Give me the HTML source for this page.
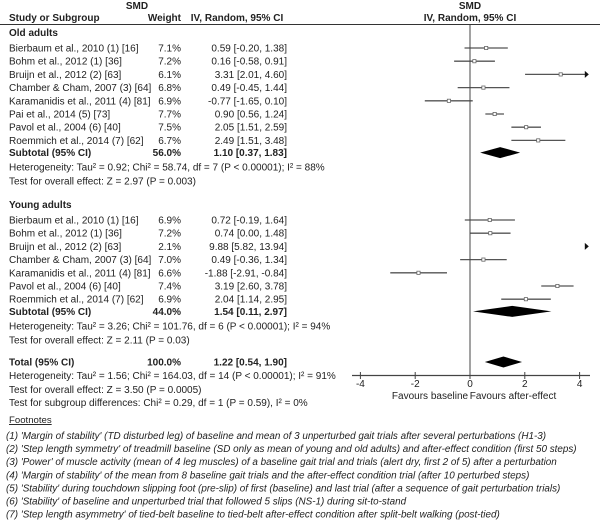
<!DOCTYPE html>
<html><head><meta charset="utf-8"><style>
body{margin:0;background:#fff;width:600px;height:523px;overflow:hidden}
svg{display:block;font-family:"Liberation Sans",Arial,sans-serif}
</style></head><body>
<svg id="plot" width="600" height="523" viewBox="0 0 600 523">
<g id="txt" fill="#222"></g>
<g id="marks"></g>
</svg>
<script>
const studies=["Bierbaum et al., 2010 (1) [16]","Bohm et al., 2012 (1) [36]","Bruijn et al., 2012 (2) [63]","Chamber & Cham, 2007 (3) [64]","Karamanidis et al., 2011 (4) [81]","Pai et al., 2014 (5) [73]","Pavol et al., 2004 (6) [40]","Roemmich et al., 2014 (7) [62]"];
const oldW=[7.1,7.2,6.1,6.8,6.9,7.7,7.5,6.7];
const oldEst=[0.59,0.16,3.31,0.49,-0.77,0.90,2.05,2.49];
const oldLo=[-0.20,-0.58,2.01,-0.45,-1.65,0.56,1.51,1.51];
const oldHi=[1.38,0.91,4.60,1.44,0.10,1.24,2.59,3.48];
const youngStudies=["Bierbaum et al., 2010 (1) [16]","Bohm et al., 2012 (1) [36]","Bruijn et al., 2012 (2) [63]","Chamber & Cham, 2007 (3) [64]","Karamanidis et al., 2011 (4) [81]","Pavol et al., 2004 (6) [40]","Roemmich et al., 2014 (7) [62]"];
const youngW=[6.9,7.2,2.1,7.0,6.6,7.4,6.9];
const youngEst=[0.72,0.74,9.88,0.49,-1.88,3.19,2.04];
const youngLo=[-0.19,-0.00,5.82,-0.36,-2.91,2.60,1.14];
const youngHi=[1.64,1.48,13.94,1.34,-0.84,3.78,2.95];
const subtotals=[[1.10,0.37,1.83],[1.54,0.11,2.97],[1.22,0.54,1.90]];
const ticks=[-4,-2,0,2,4];
const NS="http://www.w3.org/2000/svg";
const X0=470,SC=27.4,XMIN=-4.3,XMAX=4.3;
const xs=v=>X0+v*SC;
const T=document.getElementById('txt'),M=document.getElementById('marks');
function mk(tag,at,par){const e=document.createElementNS(NS,tag);for(const k in at)e.setAttribute(k,at[k]);(par||M).appendChild(e);return e;}
function tx(x,y,s,o){o=o||{};const e=mk('text',{x:x,y:y,'text-anchor':o.a||'start','font-weight':o.b?'bold':'normal','font-style':o.i?'italic':'normal','font-size':o.fs||10,'text-decoration':o.u?'underline':'none'},T);e.textContent=s;return e;}
const f=v=>v.toFixed(2);
tx(137,9,"SMD",{a:'middle',b:1,n:'header-smd-left'});
tx(470,9,"SMD",{a:'middle',b:1,n:'header-smd-right'});
tx(9,21,"Study or Subgroup",{b:1,n:'header-study'});
tx(181,21,"Weight",{a:'end',b:1,n:'header-weight'});
tx(237,21,"IV, Random, 95% CI",{a:'middle',b:1,n:'header-ci'});
tx(470,21,"IV, Random, 95% CI",{a:'middle',b:1,n:'header-ci-plot'});
let l=mk('line',{x1:0,x2:600,y1:24.5,y2:24.5,stroke:'#333','stroke-width':1});

function group(title,names,W,E,L,H,y0,sub,si,het,z){
  tx(9,y0,title,{b:1,n:'group-title'});
  names.forEach((s,i)=>{const y=y0+12+i*13.2;
    tx(9,y+3.5,s,{n:'study-name'});tx(181,y+3.5,W[i].toFixed(1)+"%",{a:'end',n:'study-weight'});
    tx(287,y+3.5,f(E[i])+" ["+f(L[i])+", "+f(H[i])+"]",{a:'end',n:'study-ci'});
    const lo=Math.max(L[i],XMIN),hi=Math.min(H[i],XMAX);
    if(lo<hi){const ln=mk('line',{x1:xs(lo),x2:xs(hi),y1:y,y2:y,stroke:'#555','stroke-width':1.3});
      }
    if(H[i]>XMAX){const a=mk('path',{d:`M${xs(XMAX)-3},${y-3.5}L${xs(XMAX)+1},${y}L${xs(XMAX)-3},${y+3.5}Z`,fill:'#111'});
      }
    if(E[i]<XMAX){const r=mk('rect',{x:xs(E[i])-1.6,y:y-1.6,width:3.2,height:3.2,fill:'#fff',stroke:'#666','stroke-width':0.8});
      }
  });
  const ys=y0+12+names.length*13.2-1;
  tx(9,ys+3.5,"Subtotal (95% CI)",{b:1,n:'subtotal-label'});
  tx(181,ys+3.5,sub,{a:'end',b:1,n:'subtotal-weight'});
  const s=subtotals[si];
  tx(287,ys+3.5,f(s[0])+" ["+f(s[1])+", "+f(s[2])+"]",{a:'end',b:1,n:'subtotal-ci'});
  const d=mk('path',{d:`M${xs(s[1])},${ys}L${xs(s[0])},${ys-5.5}L${xs(s[2])},${ys}L${xs(s[0])},${ys+5.5}Z`,fill:'#000'});
  
  tx(9,ys+18,het,{n:'heterogeneity'});tx(9,ys+32,z,{n:'overall-effect'});
}
group("Old adults",studies,oldW,oldEst,oldLo,oldHi,36,"56.0%",0,"Heterogeneity: Tau² = 0.92; Chi² = 58.74, df = 7 (P < 0.00001); I² = 88%","Test for overall effect: Z = 2.97 (P = 0.003)");
group("Young adults",youngStudies,youngW,youngEst,youngLo,youngHi,208,"44.0%",1,"Heterogeneity: Tau² = 3.26; Chi² = 101.76, df = 6 (P < 0.00001); I² = 94%","Test for overall effect: Z = 2.11 (P = 0.03)");
const yt=362;
tx(9,yt+3.5,"Total (95% CI)",{b:1,n:'total-label'});
tx(181,yt+3.5,"100.0%",{a:'end',b:1,n:'total-weight'});
const t=subtotals[2];
tx(287,yt+3.5,f(t[0])+" ["+f(t[1])+", "+f(t[2])+"]",{a:'end',b:1,n:'total-ci'});
let td=mk('path',{d:`M${xs(t[1])},${yt}L${xs(t[0])},${yt-5.5}L${xs(t[2])},${yt}L${xs(t[0])},${yt+5.5}Z`,fill:'#000'});

tx(9,yt+17,"Heterogeneity: Tau² = 1.56; Chi² = 164.03, df = 14 (P < 0.00001); I² = 91%",{n:'total-heterogeneity'});
tx(9,yt+31,"Test for overall effect: Z = 3.50 (P = 0.0005)",{n:'total-overall-effect'});
tx(9,yt+44,"Test for subgroup differences: Chi² = 0.29, df = 1 (P = 0.59), I² = 0%",{n:'subgroup-differences'});
let v=mk('line',{x1:X0,x2:X0,y1:25,y2:375,stroke:'#444','stroke-width':1});

let ax=mk('line',{x1:352,x2:590,y1:375.5,y2:375.5,stroke:'#444','stroke-width':1.3});

ticks.forEach(k=>{const tk=mk('line',{x1:xs(k),x2:xs(k),y1:372,y2:379,stroke:'#444','stroke-width':1});
  
  tx(xs(k),387,String(k),{a:'middle',n:'x-tick-label'});});
tx(430,399,"Favours baseline",{a:'middle',n:'favours-baseline'});
tx(513,399,"Favours after-effect",{a:'middle',n:'favours-after-effect'});
tx(9,423,"Footnotes",{u:1,fs:9.6,n:'footnotes-title'});
const notes=["(1) 'Margin of stability' (TD disturbed leg) of baseline and mean of 3 unperturbed gait trials after several perturbations (H1-3)",
"(2) 'Step length symmetry' of treadmill baseline (SD only as mean of young and old adults) and after-effect condition (first 50 steps)",
"(3) 'Power' of muscle activity (mean of 4 leg muscles) of a baseline gait trial and trials (alert dry, first 2 of 5) after a perturbation",
"(4) 'Margin of stability' of the mean from 8 baseline gait trials and the after-effect condition trial (after 10 perturbed steps)",
"(5) 'Stability' during touchdown slipping foot (pre-slip) of first (baseline) and last trial (after a sequence of gait perturbation trials)",
"(6) 'Stability' of baseline and unperturbed trial that followed 5 slips (NS-1) during sit-to-stand",
"(7) 'Step length asymmetry' of tied-belt baseline to tied-belt after-effect condition after split-belt walking (post-tied)"];
notes.forEach((s,i)=>{const e=tx(6,439+i*13.1,s,{fs:9.9,i:1,n:'footnote'});});
</script>
</body></html>
